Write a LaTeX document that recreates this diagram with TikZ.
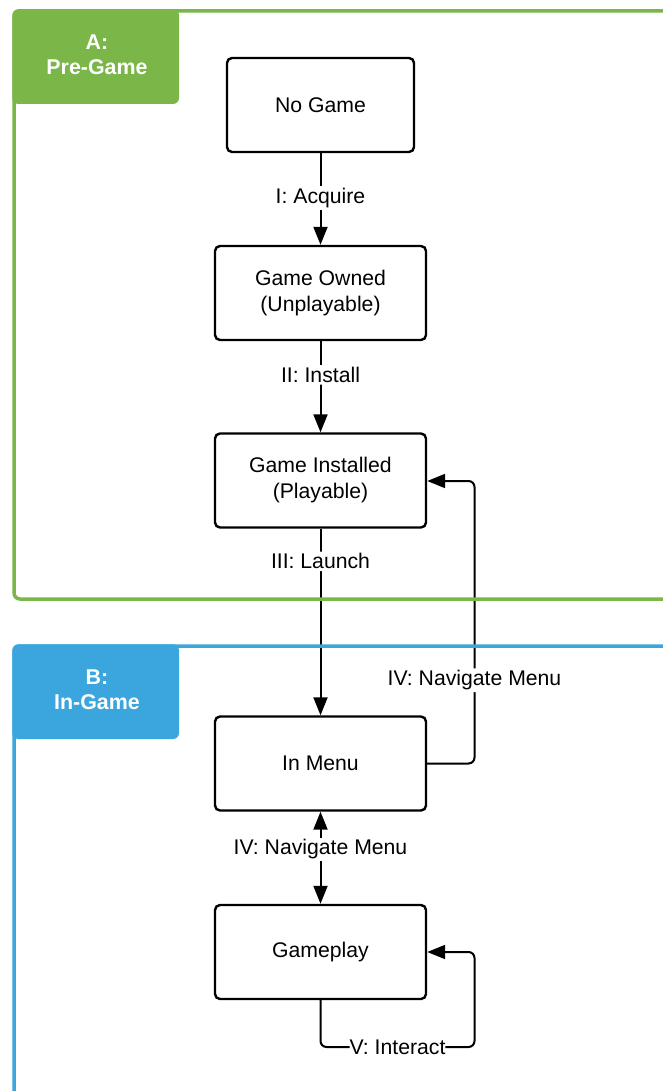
\documentclass[tikz,border=0pt]{standalone}
\usepackage{fontspec}
\setmainfont{Liberation Sans}
\usetikzlibrary{arrows.meta}
\definecolor{pregreen}{HTML}{7AB648}
\definecolor{inblue}{HTML}{3AA6DD}
\tikzset{
  state/.style={draw=black, line width=2.4pt, rounded corners=5pt, fill=white,
    minimum width=211pt, minimum height=94pt, align=center,
    font=\fontsize{21.2}{26}\selectfont},
  tip/.style={Triangle[length=18pt,width=14pt]},
  flow/.style={line width=2pt, rounded corners=6pt, -{Triangle[length=18pt,width=14pt]}},
  lbl/.style={fill=white, inner sep=2pt, font=\fontsize{21.2}{26}\selectfont},
  frame/.style={line width=3.5pt, rounded corners=6pt},
  tab/.style={rounded corners=6pt},
  tabtext/.style={text=white, align=center, font=\bfseries\fontsize{21.4}{25}\selectfont}
}
\begin{document}
\begin{tikzpicture}[x=1pt,y=-1pt]
\useasboundingbox (0,0) rectangle (663,1091);

% states
\node[state, minimum width=187pt] (nogame) at (320.5,105) {No Game};
\node[state] (owned) at (320.5,293) {Game Owned\\(Unplayable)};
\node[state] (installed) at (320.5,480.5) {Game Installed\\(Playable)};
\node[state] (menu) at (320.5,763.5) {In Menu};
\node[state] (play) at (320.5,952) {Gameplay};

% transitions
\draw[flow] (nogame) -- node[lbl, pos=0.49] (t1) {I: Acquire} (owned);
\draw[flow] (owned) -- node[lbl, pos=0.37] (t2) {II: Install} (installed);
\draw[flow] (installed) -- node[lbl, pos=0.175] (t3) {III: Launch} (menu);
\draw[line width=2pt, {Triangle[length=18pt,width=14pt]}-{Triangle[length=18pt,width=14pt]}]
  (menu) -- node[lbl, pos=0.41] (t4) {IV: Navigate Menu} (play);

\draw[flow] (menu.east) -- (474.5,763.5) -- node[lbl, pos=0.295] (t5) {IV: Navigate Menu}
  (474.5,481) -- (installed.east |- 0,481);
\draw[flow] (play.south) -- (320.5,1047) -- node[lbl, pos=0.5, inner sep=0pt] (t6) {V: Interact}
  (474.5,1047) -- (474.5,952) -- (play.east);

% phase frames
\draw[frame, draw=pregreen] (664,11) -- (14,11) -- (14,599) -- (664,599);
\fill[tab, fill=pregreen] (12.25,9.25) rectangle (179,104);
\node[tabtext] (tabA) at (97,54.5) {A:\\Pre-Game};

\draw[frame, draw=inblue] (664,646) -- (14,646) -- (14,1095);
\fill[tab, fill=inblue] (12.25,644.25) rectangle (179,739);
\node[tabtext] (tabB) at (97,689.5) {B:\\In-Game};
\end{tikzpicture}
\end{document}
